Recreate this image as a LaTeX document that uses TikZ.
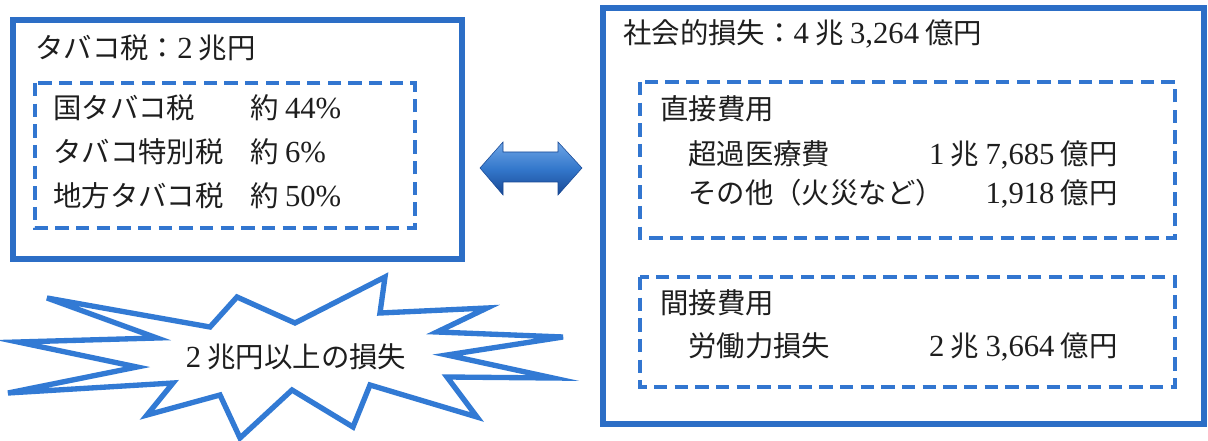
\documentclass[tikz,border=0pt]{standalone}
\usepackage{fontspec}
\setmainfont{Noto Sans CJK JP}
\newfontfamily\latinserif[Scale=1.08]{Liberation Serif}
\newcommand{\digits}[1]{{\latinserif #1}}

\definecolor{frameblue}{RGB}{44,110,198}
\definecolor{dashblue}{RGB}{50,118,208}
\definecolor{burstblue}{RGB}{50,122,212}
\definecolor{arrowtop}{RGB}{110,165,230}
\definecolor{arrowmid}{RGB}{52,120,204}
\definecolor{arrowbot}{RGB}{24,72,148}
\definecolor{inkgray}{RGB}{30,30,30}

\begin{document}
\begin{tikzpicture}
	[x=0.75pt, y=-0.75pt,
	 every node/.style={inkgray,inner sep=0pt,font=\fontsize{21.3}{25}\selectfont},
	 outerbox/.style={draw=frameblue,line width=4.8pt},
	 innerbox/.style={draw=dashblue,line width=2.6pt,dash pattern=on 10pt off 5.5pt},
	 entry/.style={anchor=base west},
	 amount/.style={anchor=base east},
	 burst/.style={draw=burstblue,line width=4pt,line join=miter,fill=white},
	 twoway/.style={top color=arrowtop,bottom color=arrowbot,middle color=arrowmid,draw=arrowbot,line width=0.4pt} ]

\fill[white] (0,0) rectangle (1208,441);
\useasboundingbox (0,0) rectangle (1208,441);

\draw[outerbox] (13,20) rectangle (462,259);
\draw[innerbox] (35,83) rectangle (415,228);
\node[entry] (taxtitle) at (35,59) {タバコ税：\digits{2} 兆円};
\node[entry] (national) at (53,119) {国タバコ税};
\node[entry] (nationalpct) at (250,119) {約 \digits{44\%}};
\node[entry] (special) at (53,163) {タバコ特別税};
\node[entry] (specialpct) at (250,163) {約 \digits{6\%}};
\node[entry] (local) at (53,207) {地方タバコ税};
\node[entry] (localpct) at (250,207) {約 \digits{50\%}};

\shadedraw[twoway] (480,168) -- (503,142) -- (503,152) -- (558,152) -- (558,142)
  -- (582,168) -- (558,195) -- (558,182) -- (503,182) -- (503,195) -- cycle;

\draw[burst] (47,298) -- (157,338) -- (18,342) -- (137,367) -- (8,393) -- (173,383)
  -- (147,415) -- (220,395) -- (240,438) -- (292,390) -- (353,427) -- (370,385)
  -- (477,417) -- (447,377) -- (553,378) -- (447,355) -- (563,337) -- (437,332)
  -- (487,308) -- (380,313) -- (385,277) -- (295,323) -- (237,297) -- (210,327) -- cycle;
\node (losstext) at (296,357) {\digits{2} 兆円以上の損失};

\draw[outerbox] (603,8) rectangle (1204,424);
\node[entry] (losstitle) at (623,44) {社会的損失：\digits{4} 兆 \digits{3,264} 億円};

\draw[innerbox] (640,82) rectangle (1175,238);
\node[entry] (direct) at (660,120) {直接費用};
\node[entry] (medical) at (688,165) {超過医療費};
\node[amount] (medicalamt) at (1118,165) {\digits{1} 兆 \digits{7,685} 億円};
\node[entry] (other) at (688,204) {その他（火災など）};
\node[amount] (otheramt) at (1118,204) {\digits{1,918} 億円};

\draw[innerbox] (640,277) rectangle (1175,387);
\node[entry] (indirect) at (660,314) {間接費用};
\node[entry] (labour) at (688,357) {労働力損失};
\node[amount] (labouramt) at (1118,357) {\digits{2} 兆 \digits{3,664} 億円};

\end{tikzpicture}
\end{document}
